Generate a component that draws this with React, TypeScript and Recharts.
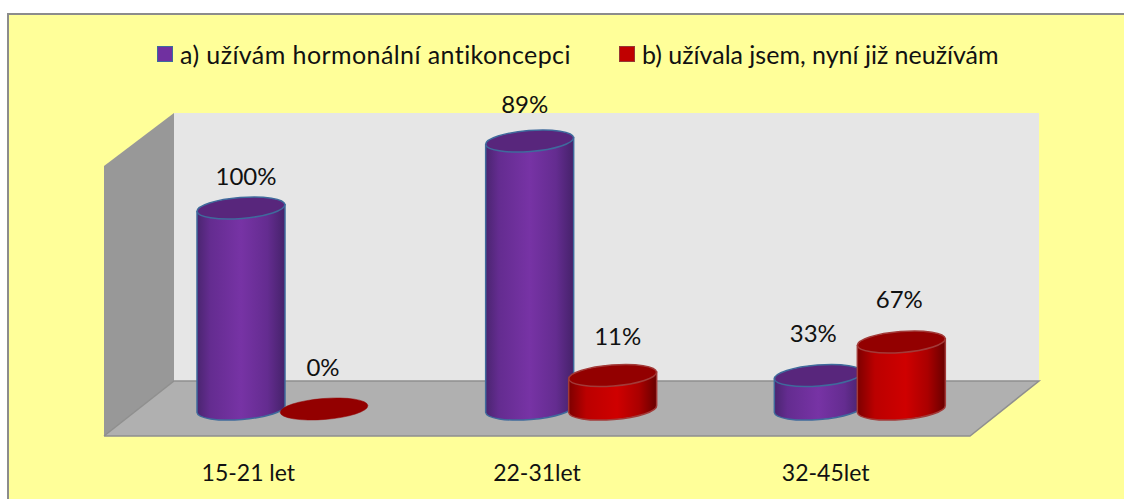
import { BarChart, Bar, XAxis, YAxis, Legend, LabelList, usePlotArea } from "recharts";

const categories = ["15-21 let", "22-31let", "32-45let"];
// bar heights are respondent counts, the labels are the shares printed above them
const usingNow = [6, 8, 1];
const usedBefore = [0, 1, 2];
const usingNowLabels = ["100%", "89%", "33%"];
const usedBeforeLabels = ["0%", "11%", "67%"];
const seriesNames = ["a) užívám hormonální antikoncepci", "b) užívala jsem, nyní již neužívám"];

const data = categories.map((name, i) => ({
  name,
  a: usingNow[i],
  b: usedBefore[i],
  aLabel: usingNowLabels[i],
  bLabel: usedBeforeLabels[i],
}));

const FONT = "Lato, Carlito, Calibri, sans-serif";
const DEPTH_X = 35;

// labels were hand placed in the original, so each one gets a small nudge
const nudgeA = [[5, -29], [-5, -34], [-5, -40]];
const nudgeB = [[-1, -39], [5, -37], [-2, -40]];

const Walls = () => {
  const plot = usePlotArea();
  if (!plot) return null;
  const left = plot.x + 1;
  const right = plot.x + plot.width + 1;
  const top = plot.y;
  const base = plot.y + plot.height;
  const backY = base - 28;
  const frontY = base + 27;
  const wallTop = top - 28;
  const pts = (list: number[][]) => list.map((p) => p.join(",")).join(" ");
  return (
    <g>
      <polygon points={pts([[left + DEPTH_X, wallTop], [right + DEPTH_X - 1, wallTop], [right + DEPTH_X - 1, backY], [left + DEPTH_X, backY]])} fill="#e6e6e6" />
      <polygon points={pts([[left - DEPTH_X, top + 25], [left + DEPTH_X, wallTop], [left + DEPTH_X, backY], [left - DEPTH_X, frontY]])} fill="#989898" />
      <polygon points={pts([[left - DEPTH_X, frontY], [left + DEPTH_X, backY], [right + DEPTH_X - 1, backY], [right - DEPTH_X, frontY]])} fill="#b0b0b0" />
      <polyline points={pts([[left - DEPTH_X, frontY], [right - DEPTH_X, frontY], [right + DEPTH_X - 1, backY], [left + DEPTH_X, backY], [left - DEPTH_X, frontY]])} fill="none" stroke="#8f8f8f" strokeWidth={1.5} />
    </g>
  );
};

const Cylinder = (props: any) => {
  const { x, y, width, height, body, cap, rim } = props;
  const rx = width / 2;
  const ry = 10.5;
  const rise = 3.5;
  const angle = -4.5;
  const cx = x + rx;
  const baseY = y + height;
  const flat = height < 1;
  return (
    <g>
      {!flat && (
        <path
          d={`M${x},${y + rise} L${x},${baseY + rise} A${rx},${ry} ${angle} 0 0 ${x + width},${baseY - rise} L${x + width},${y - rise} Z`}
          fill={`url(#${body})`}
          stroke={rim}
          strokeWidth={1.5}
        />
      )}
      <ellipse
        cx={cx}
        cy={y}
        rx={rx}
        ry={ry}
        transform={`rotate(${angle} ${cx} ${y})`}
        fill={cap}
        stroke={flat ? cap : rim}
        strokeWidth={flat ? 0.5 : 1.5}
      />
    </g>
  );
};

const percentLabel = (nudge: number[][]) => (props: any) => {
  const box = props.viewBox ?? props;
  const [dx, dy] = nudge[props.index];
  return (
    <text
      x={box.x + box.width / 2 + dx}
      y={box.y + dy}
      textAnchor="middle"
      dominantBaseline="middle"
      fontFamily={FONT}
      fontSize={24}
      fill="#111"
    >
      {props.value}
    </text>
  );
};

const LegendRow = () => (
  <div style={{ position: "relative", height: 30, fontFamily: FONT, fontSize: 25, color: "#111" }}>
    {seriesNames.map((name, i) => (
      <div
        key={name}
        style={{
          position: "absolute",
          left: i === 0 ? 157 : 619,
          top: 0,
          display: "flex",
          alignItems: "center",
          whiteSpace: "nowrap",
          letterSpacing: i === 0 ? 0.42 : 0,
        }}
      >
        <span
          style={{
            width: 14,
            height: 14,
            marginRight: 7,
            border: i === 0 ? "1px solid #3e6a9e" : "1px solid #953735",
            background: i === 0 ? "#7030a0" : "#c00000",
          }}
        />
        {name}
      </div>
    ))}
  </div>
);

export default function App() {
  return (
    <div style={{ position: "absolute", left: 0, top: 0, width: 1124, height: 499, overflow: "hidden" }}>
      <div
        style={{
          position: "absolute",
          left: 7,
          top: 13,
          right: 0,
          bottom: 0,
          background: "#ffff99",
          borderLeft: "2px solid #8c8c8c",
          borderTop: "2px solid #8c8c8c",
        }}
      />
      <BarChart
        width={1124}
        height={499}
        data={data}
        barSize={88}
        barGap={-5}
        margin={{ top: 141, right: 120, bottom: 30, left: 138 }}
        style={{ position: "absolute", left: 0, top: 0 }}
      >
        <defs>
          <linearGradient id="purpleBody" x1="0" y1="0" x2="1" y2="0">
            <stop offset="0" stopColor="#4a2570" />
            <stop offset="0.15" stopColor="#642c90" />
            <stop offset="0.5" stopColor="#7733a5" />
            <stop offset="0.8" stopColor="#642c90" />
            <stop offset="1" stopColor="#45226a" />
          </linearGradient>
          <linearGradient id="redBody" x1="0" y1="0" x2="1" y2="0">
            <stop offset="0" stopColor="#7d0000" />
            <stop offset="0.2" stopColor="#bb0000" />
            <stop offset="0.55" stopColor="#cf0000" />
            <stop offset="0.8" stopColor="#aa0000" />
            <stop offset="1" stopColor="#680000" />
          </linearGradient>
        </defs>
        <Walls />
        <XAxis
          dataKey="name"
          axisLine={false}
          tickLine={false}
          height={60}
          tickMargin={50}
          dx={-34}
          tick={{ fontFamily: FONT, fontSize: 23, fill: "#111" }}
        />
        <YAxis hide domain={[0, 8]} />
        <Legend verticalAlign="middle" layout="horizontal" content={<LegendRow />} wrapperStyle={{ left: 0, top: 39, width: 1124 }} />
        <Bar
          dataKey="a"
          isAnimationActive={false}
          shape={(p: any) => <Cylinder {...p} body="purpleBody" cap="#58267c" rim="#3f6a9c" />}
        >
          <LabelList dataKey="aLabel" content={percentLabel(nudgeA)} />
        </Bar>
        <Bar
          dataKey="b"
          isAnimationActive={false}
          shape={(p: any) => <Cylinder {...p} body="redBody" cap="#930000" rim="#a23a38" />}
        >
          <LabelList dataKey="bLabel" content={percentLabel(nudgeB)} />
        </Bar>
      </BarChart>
    </div>
  );
}
